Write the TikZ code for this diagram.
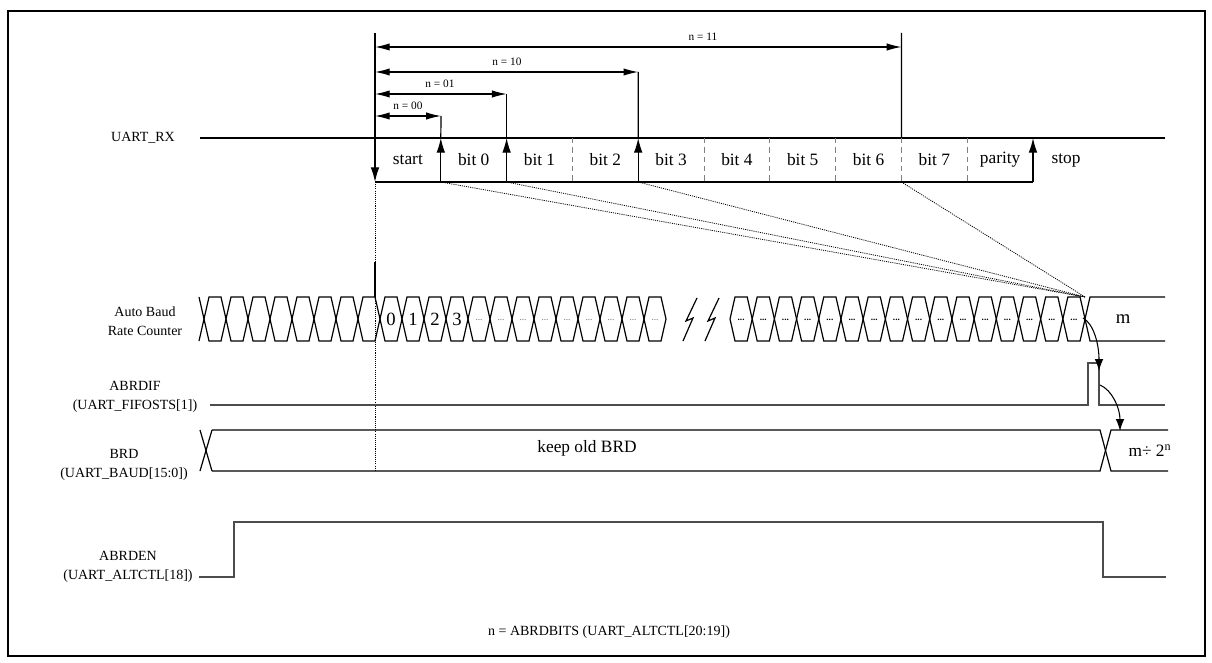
\documentclass[tikz,border=0pt]{standalone}
\usepackage{fontspec}
\setmainfont{Liberation Serif}
\usetikzlibrary{
    arrows.meta,
    positioning
}

\begin{document}
\begin{tikzpicture}[
x=0.75pt, y=-0.75pt,
sig/.style={line width=0.9pt},
grey sig/.style={line width=1.1pt, black!70},
rxedge/.style={-{Latex[length=11pt,width=6.5pt]}, line width=0.9pt},
dimarrow/.style={{Latex[length=11pt,width=5.5pt]}-{Latex[length=11pt,width=5.5pt]}, line width=0.8pt},
flow/.style={-{Latex[length=9pt,width=6.5pt]}, line width=0.8pt},
bitsep/.style={black!50, line width=0.7pt, dash pattern=on 4pt off 3pt},
dotline/.style={line width=0.6pt, dash pattern=on 0.8pt off 0.8pt},
lbl/.style={align=center, font=\fontsize{10.5}{14}\selectfont},
bitlbl/.style={font=\fontsize{13}{15}\selectfont},
dimlbl/.style={font=\fontsize{8.5}{10}\selectfont},
cntlbl/.style={font=\fontsize{14}{15}\selectfont, inner sep=0pt},
dots/.style={font=\fontsize{7}{7}\selectfont, inner sep=0pt}
]

\useasboundingbox (0,0) rectangle (1212,663);

\draw[line width=1.6pt] (8,11) rectangle (1205,656);

% bit edges of the received frame
\foreach \i in {0,...,10} {
\coordinate (t\i) at ({375+65.8*\i},138);
\coordinate (b\i) at ({375+65.8*\i},182);
}

\coordinate (cntend) at (1085,297);

\node[lbl] (rxlbl) at (143,138) {UART\_RX};

\draw[sig] (200,138) -- (1165,138);

\draw[sig] (b0) -- (b10);

\draw[rxedge] (375,33) -- (b0);

\draw[rxedge] (b1) -- (t1);
\draw[sig] (t1) -- (441,116);

\draw[rxedge] (b2) -- (t2);
\draw[sig] (t2) -- (506.6,94);

\draw[rxedge] (b4) -- (t4);
\draw[sig] (t4) -- (638.2,72);

\draw[rxedge] (b10) -- (t10);

\draw[sig] (901.4,33) -- (t8);

\foreach \i in {3,5,6,7,8,9}
\draw[bitsep] (t\i) -- (b\i);

\foreach \i/\t in {0/start,1/bit 0,2/bit 1,3/bit 2,4/bit 3,5/bit 4,6/bit 5,7/bit 6,8/bit 7,9/parity}
\node[bitlbl] (bit\i) at ({375+65.8*\i+32.9},160) {\t};

\node[bitlbl] (stop) at (1066,160) {stop};

\draw[dimarrow] (375,116) -- (440.8,116);
\node[dimlbl] (n00) at (408,106) {n = 00};

\draw[dimarrow] (375,94) -- (506.6,94);
\node[dimlbl] (n01) at (440,84) {n = 01};

\draw[dimarrow] (375,72) -- (638.2,72);
\node[dimlbl] (n10) at (507,62) {n = 10};

\draw[dimarrow] (375,47) -- (901.4,47);
\node[dimlbl] (n11) at (703,37) {n = 11};

% sampling guides
\draw[dotline] (b0) -- (375,262);
\draw[sig] (375,262) -- (375,297);
\draw[dotline] (375,297) -- (375,471);

\foreach \i in {1,2,4,8}
\draw[dotline] (b\i) -- (cntend);

% auto baud rate counter
\node[lbl] (cntlabel) at (145,321) {Auto Baud\\Rate Counter};

\draw[sig] (199,297) -- (204,319) -- (199,341);

\foreach \k in {0,...,20} {
\pgfmathsetmacro\xa{204+22*\k}
\pgfmathsetmacro\xb{226+22*\k}
\draw[sig] (\xa,319) -- ({\xa+5},297) -- ({\xb-5},297) -- (\xb,319)
-- ({\xb-5},341) -- ({\xa+5},341) -- cycle;
}

\foreach \k/\t in {8/0,9/1,10/2,11/3}
\node[cntlbl] (cnt\t) at ({215+22*\k},319) {\t};

\foreach \k in {12,...,20}
\node[dots, black!60] (dota\k) at ({215+22*\k},320) {...};

\draw[sig] (697,298) -- (686,321) -- (693,318) -- (683,341);
\draw[sig] (719,298) -- (708,321) -- (715,318) -- (705,341);

\foreach \k in {0,...,15} {
\pgfmathsetmacro\xa{730+22.19*\k}
\pgfmathsetmacro\xb{752.19+22.19*\k}
\draw[sig] (\xa,319) -- ({\xa+5},297) -- ({\xb-5},297) -- (\xb,319)
-- ({\xb-5},341) -- ({\xa+5},341) -- cycle;
\node[dots, font=\fontsize{7}{7}\selectfont\bfseries] (dotb\k) at ({(\xa+\xb)/2},320) {...};
}

\draw[sig] (1085,319) -- (1090,297) -- (1165,297);
\draw[sig] (1085,319) -- (1090,341) -- (1165,341);

\node[cntlbl] (mval) at (1123,319) {m};

% ABRDIF flag
\node[lbl] (diflbl) at (135,397) {ABRDIF\\(UART\_FIFOSTS[1])};

\draw[grey sig] (210,405) -- (1088,405) -- (1088,363) -- (1099,363) -- (1099,405) -- (1165,405);

\draw[flow] (1083,318) .. controls (1094,324) and (1099,345) .. (1099,371);

\draw[flow] (1100,385) .. controls (1112,390) and (1120,408) .. (1120,431);

% baud rate divider
\node[lbl] (brdlbl) at (124,465) {BRD\\(UART\_BAUD[15:0])};

\draw[sig] (200,430) -- (212,471);
\draw[sig] (200,471) -- (212,430);
\draw[sig] (212,430) -- (1100,430) -- (1111,471) -- (1168,471);
\draw[sig] (212,471) -- (1100,471) -- (1111,430) -- (1168,430);

\node[font=\fontsize{13}{15}\selectfont] (oldbrd) at (587,448) {keep old BRD};

\node[font=\fontsize{13}{15}\selectfont] (newbrd) at (1150,451) {m÷ 2\textsuperscript{n}};

% ABRDEN enable
\node[lbl] (enlbl) at (128,567) {ABRDEN\\(UART\_ALTCTL[18])};

\draw[grey sig] (199,577) -- (234,577) -- (234,522) -- (1103,522) -- (1103,577) -- (1166,577);

\node[lbl] (note) at (609,632) {n = ABRDBITS (UART\_ALTCTL[20:19])};

\end{tikzpicture}
\end{document}
